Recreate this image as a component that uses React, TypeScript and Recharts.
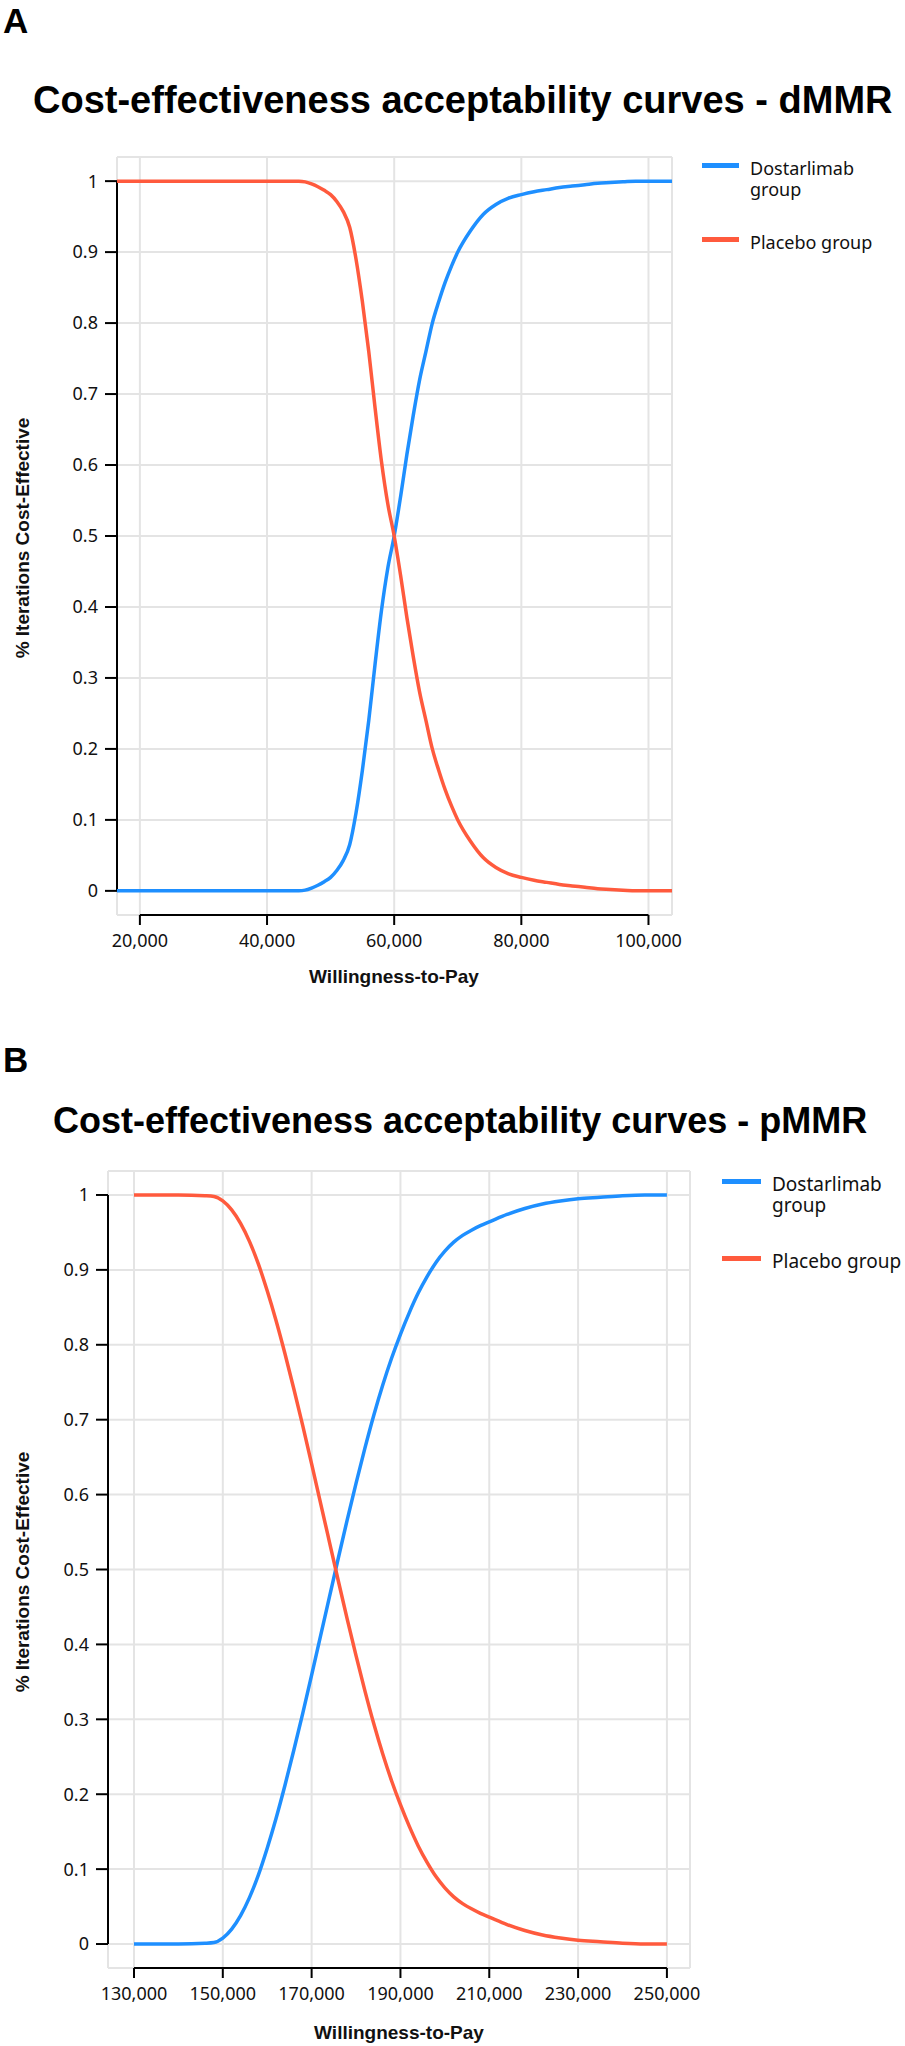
import {
  LineChart,
  Line,
  XAxis,
  YAxis,
  CartesianGrid,
  ReferenceLine,
} from "recharts";

// willingness-to-pay grid and acceptability values
const dmmrWtp = [
  16400, 20000, 30000, 40000, 44000, 45000, 46000, 47000, 48000, 49000, 50000,
  51000, 52000, 53000, 54000, 55000, 56000, 57000, 58000, 59000, 60000, 61000,
  62000, 63000, 64000, 65000, 66000, 67000, 68000, 69000, 70000, 72000, 74000,
  76000, 78000, 80000, 82000, 84000, 86000, 88000, 90000, 92000, 94000, 96000,
  98000, 100000, 103700,
];
const dmmrDostarlimab = [
  0, 0, 0, 0, 0, 0, 0.001, 0.004, 0.008, 0.013, 0.019, 0.029, 0.043, 0.065,
  0.11, 0.17, 0.24, 0.32, 0.395, 0.455, 0.5, 0.555, 0.615, 0.67, 0.72, 0.76,
  0.8, 0.83, 0.857, 0.88, 0.9, 0.93, 0.953, 0.967, 0.976, 0.981, 0.985, 0.988,
  0.991, 0.993, 0.995, 0.997, 0.998, 0.999, 1, 1, 1,
];
const dmmrPlacebo = [
  1, 1, 1, 1, 1, 1, 0.999, 0.996, 0.992, 0.987, 0.981, 0.971, 0.957, 0.935,
  0.89, 0.83, 0.76, 0.68, 0.605, 0.545, 0.5, 0.445, 0.385, 0.33, 0.28, 0.24,
  0.2, 0.17, 0.143, 0.12, 0.1, 0.07, 0.047, 0.033, 0.024, 0.019, 0.015, 0.012,
  0.009, 0.007, 0.005, 0.003, 0.002, 0.001, 0, 0, 0,
];
const dmmrTicks = [20000, 40000, 60000, 80000, 100000];

const pmmrWtp = [
  130000, 140000, 146000, 148000, 150000, 152000, 154000, 156000, 158000,
  160000, 162000, 164000, 166000, 168000, 170000, 172000, 174000, 176000,
  178000, 180000, 182000, 184000, 186000, 188000, 190000, 192000, 194000,
  196000, 198000, 200000, 202000, 204000, 206000, 208000, 210000, 214000,
  218000, 222000, 226000, 230000, 235000, 240000, 245000, 250000,
];
const pmmrDostarlimab = [
  0, 0, 0.001, 0.002, 0.008, 0.02, 0.038, 0.062, 0.092, 0.128, 0.168, 0.212,
  0.259, 0.308, 0.359, 0.411, 0.463, 0.515, 0.566, 0.615, 0.662, 0.706, 0.746,
  0.782, 0.814, 0.843, 0.869, 0.891, 0.91, 0.925, 0.937, 0.946, 0.953, 0.959,
  0.964, 0.974, 0.982, 0.988, 0.992, 0.995, 0.997, 0.999, 1, 1,
];
const pmmrPlacebo = [
  1, 1, 0.999, 0.998, 0.992, 0.98, 0.962, 0.938, 0.908, 0.872, 0.832, 0.788,
  0.741, 0.692, 0.641, 0.589, 0.537, 0.485, 0.434, 0.385, 0.338, 0.294, 0.254,
  0.218, 0.186, 0.157, 0.131, 0.109, 0.09, 0.075, 0.063, 0.054, 0.047, 0.041,
  0.036, 0.026, 0.018, 0.012, 0.008, 0.005, 0.003, 0.001, 0, 0,
];
const pmmrTicks = [130000, 150000, 170000, 190000, 210000, 230000, 250000];

const yTicks = [0, 0.1, 0.2, 0.3, 0.4, 0.5, 0.6, 0.7, 0.8, 0.9, 1];
const seriesNames = ["Dostarlimab group", "Placebo group"];

const BLUE = "#1e8fff";
const RED = "#ff5a3d";
const GRID = "#e4e4e4";
const SANS = "'Noto Sans', 'Open Sans', sans-serif";
const BOLD = "'Liberation Sans', Arial, sans-serif";

type PanelProps = {
  top: number;
  height: number;
  margin: { top: number; right: number; bottom: number; left: number };
  xDomain: [number, number];
  yDomain: [number, number];
  xTicks: number[];
  wtp: number[];
  dostarlimab: number[];
  placebo: number[];
  fontSize: number;
};

function CeacPanel(p: PanelProps) {
  const rows = p.wtp.map((w, i) => ({
    wtp: w,
    dostarlimab: p.dostarlimab[i],
    placebo: p.placebo[i],
  }));
  const tick = { fill: "#111", fontSize: p.fontSize, fontFamily: SANS };
  const firstTick = p.xTicks[0];
  const lastTick = p.xTicks[p.xTicks.length - 1];

  return (
    <div style={{ position: "absolute", left: 0, top: p.top }}>
      <LineChart width={905} height={p.height} data={rows} margin={p.margin}>
        <CartesianGrid stroke={GRID} strokeWidth={2} />
        <XAxis
          dataKey="wtp"
          type="number"
          domain={p.xDomain}
          allowDataOverflow
          ticks={p.xTicks}
          interval={0}
          tickFormatter={(v: number) => v.toLocaleString("en-US")}
          axisLine={false}
          tickLine={{ stroke: "#000", strokeWidth: 2 }}
          tickSize={10}
          tickMargin={9}
          tick={tick}
          height={60}
        />
        <YAxis
          type="number"
          domain={p.yDomain}
          allowDataOverflow
          ticks={yTicks}
          interval={0}
          axisLine={false}
          tickLine={{ stroke: "#000", strokeWidth: 2 }}
          tickSize={12}
          tickMargin={7}
          tick={tick}
          width={100}
        />
        {/* axis lines only span the tick range, like the original */}
        <ReferenceLine
          segment={[
            { x: p.xDomain[0], y: 0 },
            { x: p.xDomain[0], y: 1 },
          ]}
          stroke="#000"
          strokeWidth={2}
          ifOverflow="visible"
        />
        <ReferenceLine
          segment={[
            { x: firstTick, y: p.yDomain[0] },
            { x: lastTick, y: p.yDomain[0] },
          ]}
          stroke="#000"
          strokeWidth={2}
          ifOverflow="visible"
        />
        <Line
          type="monotone"
          dataKey="dostarlimab"
          name={seriesNames[0]}
          stroke={BLUE}
          strokeWidth={3.5}
          dot={false}
          isAnimationActive={false}
        />
        <Line
          type="monotone"
          dataKey="placebo"
          name={seriesNames[1]}
          stroke={RED}
          strokeWidth={3.5}
          dot={false}
          isAnimationActive={false}
        />
      </LineChart>
    </div>
  );
}

// text placed by its baseline (Liberation Sans, line-height 1)
function Heading({ x, baseline, size, children }: any) {
  return (
    <div
      style={{
        position: "absolute",
        left: x,
        top: baseline - size * 0.847,
        fontFamily: BOLD,
        fontWeight: 700,
        fontSize: size,
        lineHeight: 1,
        whiteSpace: "nowrap",
        color: "#000",
      }}
    >
      {children}
    </div>
  );
}

function CenteredLabel({ cx, cy, rotate, size, children }: any) {
  return (
    <div
      style={{
        position: "absolute",
        left: cx,
        top: cy,
        transform: `translate(-50%, -50%)${rotate ? " rotate(-90deg)" : ""}`,
        fontFamily: BOLD,
        fontWeight: 700,
        fontSize: size,
        lineHeight: 1,
        whiteSpace: "nowrap",
        color: "#111",
      }}
    >
      {children}
    </div>
  );
}

function SideLegend({ x, top, gap, size, swatch, textWidth }: any) {
  const colors = [BLUE, RED];
  return (
    <>
      {seriesNames.map((name, i) => (
        <div
          key={name}
          style={{
            position: "absolute",
            left: x,
            top: top + i * gap,
            display: "flex",
            alignItems: "flex-start",
            fontFamily: SANS,
            fontSize: size,
            lineHeight: "21px",
            color: "#111",
          }}
        >
          <div
            style={{
              width: swatch,
              height: 5,
              marginTop: 5,
              marginRight: 11,
              background: colors[i],
            }}
          />
          <div style={{ width: textWidth }}>{name}</div>
        </div>
      ))}
    </>
  );
}

export default function App() {
  return (
    <div
      style={{
        position: "absolute",
        left: 0,
        top: 0,
        width: 905,
        height: 2046,
        background: "#fff",
        overflow: "hidden",
      }}
    >
      <Heading x={3} baseline={33} size={35}>
        A
      </Heading>
      <Heading x={33} baseline={113} size={38}>
        Cost-effectiveness acceptability curves - dMMR
      </Heading>
      <CeacPanel
        top={0}
        height={1040}
        margin={{ top: 157, right: 233, bottom: 65, left: 17 }}
        xDomain={[16400, 103700]}
        yDomain={[-0.034, 1.034]}
        xTicks={dmmrTicks}
        wtp={dmmrWtp}
        dostarlimab={dmmrDostarlimab}
        placebo={dmmrPlacebo}
        fontSize={18}
      />
      <CenteredLabel cx={22} cy={538} rotate size={19}>
        % Iterations Cost-Effective
      </CenteredLabel>
      <CenteredLabel cx={394} cy={976} size={19}>
        Willingness-to-Pay
      </CenteredLabel>
      <SideLegend x={702} top={158} gap={74} size={18} swatch={37} textWidth={140} />

      <Heading x={3} baseline={1072} size={35}>
        B
      </Heading>
      <Heading x={53} baseline={1133} size={36}>
        Cost-effectiveness acceptability curves - pMMR
      </Heading>
      <CeacPanel
        top={1040}
        height={1006}
        margin={{ top: 131, right: 215, bottom: 18, left: 8 }}
        xDomain={[124150, 255200]}
        yDomain={[-0.032, 1.032]}
        xTicks={pmmrTicks}
        wtp={pmmrWtp}
        dostarlimab={pmmrDostarlimab}
        placebo={pmmrPlacebo}
        fontSize={18}
      />
      <CenteredLabel cx={22} cy={1572} rotate size={19}>
        % Iterations Cost-Effective
      </CenteredLabel>
      <CenteredLabel cx={399} cy={2032} size={19}>
        Willingness-to-Pay
      </CenteredLabel>
      <SideLegend x={722} top={1174} gap={77} size={19} swatch={39} textWidth={150} />
    </div>
  );
}
